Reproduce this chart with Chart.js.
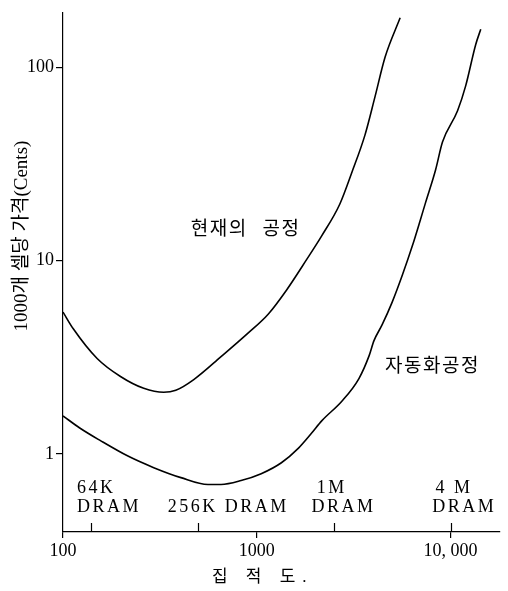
<!DOCTYPE html>
<html>
<head>
<meta charset="utf-8">
<script src="https://cdn.jsdelivr.net/npm/chart.js@4/dist/chart.umd.min.js"></script>
<style>
  html, body { margin: 0; padding: 0; background: #fff; }
  #wrap { width: 508px; height: 591px; }
</style>
</head>
<body>
<div id="wrap"><canvas id="c"></canvas></div>
<script>
// Cost per 1000 cells (cents) against integration level, log-log.
const currentX = [100, 113, 150, 198, 261, 331, 382, 473, 654, 904, 1148, 1423, 1807, 2163, 2684, 3098, 3616, 4074, 4592, 5495];
const currentY = [5.41, 4.43, 3.11, 2.51, 2.18, 2.08, 2.13, 2.42, 3.18, 4.22, 5.29, 7.02, 10.1, 13.4, 19.6, 28.6, 44.5, 70.2, 112.5, 180];

const autoX = [100, 122, 156, 215, 294, 406, 560, 654, 830, 1054, 1340, 1642, 1920, 2163, 2748, 3367, 3793, 4027, 4431, 4999, 5636, 6353, 6986, 7418, 8362, 9087, 10870, 11970, 13490, 14320];
const autoY = [1.57, 1.36, 1.17, 0.976, 0.848, 0.753, 0.694, 0.694, 0.727, 0.789, 0.899, 1.07, 1.28, 1.48, 1.87, 2.45, 3.20, 3.85, 4.64, 6.09, 8.38, 11.9, 16.2, 19.8, 29.3, 41.0, 59.5, 80.0, 131, 157];

const xTicks = [100, 1000, 10000];
const xTickLabels = ['100', '1000', '10, 000'];
const yTicks = [1, 10, 100];
const yTickLabels = ['1', '10', '100'];

// DRAM generations marked along the integration axis
const dramTicks = [140, 500, 2500, 10000];
const dramLabels = [
  { text: '64K', x: 118, y: 0.662 },
  { text: 'DRAM', x: 118, y: 0.528 },
  { text: '256K DRAM', x: 347, y: 0.528 },
  { text: '1M', x: 2037, y: 0.662 },
  { text: 'DRAM', x: 1918, y: 0.528 },
  { text: '4 M', x: 8360, y: 0.662 },
  { text: 'DRAM', x: 8055, y: 0.528 }
];
const curveLabels = [
  { text: '현재의 공정', x: 457, y: 14.8 },
  { text: '자동화공정', x: 4592, y: 2.89 }
];
const yTitle = '1000개 셀당 가격(Cents)';
const xTitle = '집 적 도.';

const FONT = '"Liberation Serif", "Noto Sans CJK KR", serif';
const toPts = (xs, ys) => xs.map((x, i) => ({ x, y: ys[i] }));

const annotate = {
  id: 'annotate',
  afterDraw(chart) {
    const ctx = chart.ctx;
    const xs = chart.scales.x, ys = chart.scales.y;
    const area = chart.chartArea;
    ctx.save();
    ctx.strokeStyle = '#000';
    ctx.fillStyle = '#000';
    ctx.lineWidth = 1.2;
    // inward ticks for DRAM generations
    dramTicks.forEach(v => {
      const px = Math.round(xs.getPixelForValue(v)) + 0.5;
      ctx.beginPath();
      ctx.moveTo(px, area.bottom);
      ctx.lineTo(px, area.bottom - 9);
      ctx.stroke();
    });
    // DRAM labels
    ctx.font = '18px ' + FONT;
    ctx.letterSpacing = '2.5px';
    ctx.textAlign = 'left';
    ctx.textBaseline = 'middle';
    dramLabels.forEach(l => {
      ctx.fillText(l.text, xs.getPixelForValue(l.x), ys.getPixelForValue(l.y));
    });
    // curve labels
    ctx.font = '19px "Noto Sans CJK KR", sans-serif';
    ctx.letterSpacing = '1.5px';
    ctx.wordSpacing = '9px';
    curveLabels.forEach(l => {
      ctx.fillText(l.text, xs.getPixelForValue(l.x), ys.getPixelForValue(l.y));
    });
    ctx.wordSpacing = '0px';
    // axis titles
    ctx.letterSpacing = '0px';
    ctx.font = '19px ' + FONT;
    ctx.textAlign = 'center';
    ctx.save();
    ctx.translate(area.left - 41, area.top + (area.bottom - area.top) * 0.43);
    ctx.rotate(-Math.PI / 2);
    ctx.fillText(yTitle, 0, 0);
    ctx.restore();
    ctx.font = '17px ' + FONT;
    ctx.letterSpacing = '7px';
    ctx.fillText(xTitle, (area.left + xs.getPixelForValue(10000)) / 2 + 6, area.bottom + 46);
    ctx.restore();
  }
};

const lineStyle = {
  showLine: true,
  borderColor: '#000',
  backgroundColor: '#000',
  borderWidth: 1.6,
  pointRadius: 0,
  cubicInterpolationMode: 'monotone',
  fill: false
};

new Chart(document.getElementById('c'), {
  type: 'scatter',
  data: {
    datasets: [
      Object.assign({ label: '현재의 공정', data: toPts(currentX, currentY) }, lineStyle),
      Object.assign({ label: '자동화공정', data: toPts(autoX, autoY) }, lineStyle)
    ]
  },
  options: {
    responsive: true,
    maintainAspectRatio: false,
    animation: false,
    layout: { padding: { left: 0, right: 8, top: 8, bottom: 0 } },
    plugins: { legend: { display: false }, tooltip: { enabled: false } },
    scales: {
      x: {
        type: 'logarithmic',
        min: 100,
        max: 18000,
        afterBuildTicks: s => { s.ticks = xTicks.map(v => ({ value: v })); },
        afterFit: s => { s.height = 59; },
        ticks: {
          callback: (v) => xTickLabels[xTicks.indexOf(v)] ?? '',
          color: '#000',
          font: { family: FONT, size: 18 },
          padding: 2,
          maxRotation: 0,
          autoSkip: false
        },
        grid: { drawOnChartArea: false, drawTicks: true, tickLength: 6, color: '#000', lineWidth: 1.2 },
        border: { display: true, color: '#000', width: 1.2 }
      },
      y: {
        type: 'logarithmic',
        min: 0.394,
        max: 191,
        afterBuildTicks: s => { s.ticks = yTicks.map(v => ({ value: v })); },
        afterFit: s => { s.width = 63; },
        ticks: {
          callback: (v) => yTickLabels[yTicks.indexOf(v)] ?? '',
          color: '#000',
          font: { family: FONT, size: 18 },
          padding: 2,
          autoSkip: false
        },
        grid: { drawOnChartArea: false, drawTicks: true, tickLength: 7, color: '#000', lineWidth: 1.2 },
        border: { display: true, color: '#000', width: 1.2 }
      }
    }
  },
  plugins: [annotate]
});
</script>
</body>
</html>
